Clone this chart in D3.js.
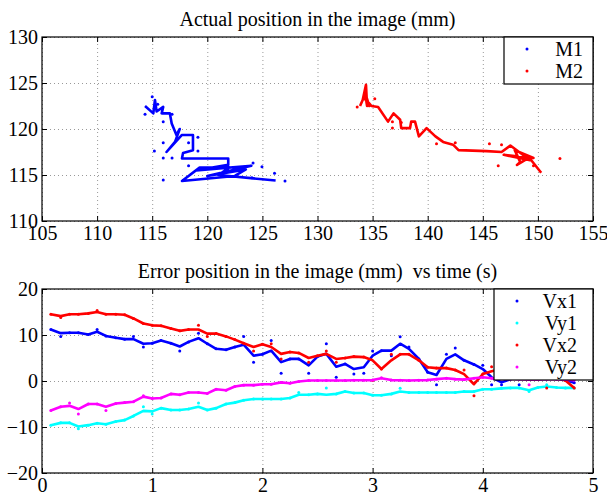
<!DOCTYPE html>
<html>
<head>
<meta charset="utf-8">
<script src="https://cdn.jsdelivr.net/npm/d3@7"></script>
<style>
  body { margin: 0; background: #fff; }
  svg text { font-family: "Liberation Serif", "Times New Roman", serif; fill: #000; white-space: pre; }
</style>
</head>
<body>
<svg id="chart" width="607" height="493"></svg>
<script>
// top panel: trajectories (mm)
const m1LineX = [114.35, 115.1, 115.25, 115.4, 116.0, 115.86, 116.6, 116.77, 117.2, 117.5, 117.07, 116.3, 117.7, 118.7, 118.7, 117.8, 117.7, 121.9, 121.9, 119.0, 124.0, 120.0, 123.5, 122.5, 117.7, 119.3, 122.0, 121.0, 126.2];
const m1LineY = [122.5, 121.7, 123.15, 121.9, 122.4, 121.7, 121.7, 120.6, 119.35, 120.0, 118.6, 117.5, 119.35, 119.35, 117.7, 117.4, 116.8, 116.8, 116.1, 115.5, 116.0, 114.9, 115.6, 114.9, 114.35, 115.8, 115.8, 115.0, 114.4];
const m1DotX = [114.35, 116.0, 116.8, 116.0, 115.2, 116.0, 116.8, 118.3, 119.15, 119.15, 118.3, 116.0, 124.15, 124.96, 126.1, 127.05, 124.05, 123.0, 115.0, 115.5];
const m1DotY = [121.6, 120.8, 121.6, 118.5, 117.6, 116.85, 116.85, 118.5, 119.1, 117.6, 116.0, 114.45, 116.3, 115.9, 115.2, 114.35, 114.7, 115.5, 123.5, 122.7];

const m2LineX = [133.86, 134.1, 134.4, 134.5, 134.3, 134.7, 134.2, 134.9, 135.5, 136.4, 136.9, 137.5, 137.6, 138.4, 138.5, 138.85, 139.2, 139.9, 140.7, 141.4, 142.3, 142.8, 145.35, 146.7, 147.5, 149.3, 146.9, 149.6, 147.9, 148.4, 148.1, 149.2, 150.3];
const m2LineY = [122.5, 123.15, 124.8, 122.5, 124.0, 122.5, 123.5, 122.5, 122.4, 120.8, 121.7, 121.0, 120.1, 120.1, 120.8, 120.8, 119.2, 120.1, 119.2, 118.6, 118.3, 117.7, 117.6, 117.5, 118.2, 116.6, 117.2, 116.85, 117.7, 116.4, 116.1, 116.9, 115.25];
const m2DotX = [133.6, 135.2, 136.8, 136.8, 137.6, 140.8, 142.5, 145.6, 146.4, 146.7, 149.6, 152.0];
const m2DotY = [122.4, 123.3, 120.8, 120.1, 120.7, 118.4, 118.5, 118.4, 116.0, 118.3, 116.0, 116.8];

// bottom panel: errors (mm) vs time (s)
const times = [0.08, 0.17, 0.25, 0.33, 0.42, 0.50, 0.58, 0.67, 0.75, 0.83, 0.92, 1.00, 1.08, 1.17, 1.25, 1.33, 1.42, 1.50, 1.58, 1.67, 1.75, 1.83, 1.92, 2.00, 2.08, 2.17, 2.25, 2.33, 2.42, 2.50, 2.58, 2.67, 2.75, 2.83, 2.92, 3.00, 3.08, 3.17, 3.25, 3.33, 3.42, 3.50, 3.58, 3.67, 3.75, 3.83, 3.92, 4.00, 4.08, 4.17, 4.25, 4.33, 4.42, 4.50, 4.58, 4.67, 4.75, 4.83];

const vx1Line = [11.2, 10.4, 10.5, 10.5, 10.1, 10.7, 9.8, 9.4, 9.1, 9.1, 8.1, 8.2, 8.8, 8.2, 7.5, 8.5, 9.3, 8.1, 7.0, 6.8, 7.4, 7.9, 5.5, 5.8, 6.6, 4.1, 4.8, 4.8, 3.4, 5.3, 5.9, 3.1, 3.7, 2.6, 3.0, 5.5, 6.6, 6.6, 8.1, 7.0, 4.8, 1.9, 1.3, 4.8, 5.8, 4.5, 3.6, 2.6, 0.8, -0.3, 0.4, 1.2, 1.8, 1.4, 1.0, 0.6, 0.2, -0.4];
const vx1Dots = [11.2, 9.7, 10.5, 10.5, 10.1, 11.2, 9.8, 9.4, 9.1, 9.7, 7.4, 8.2, 8.8, 8.2, 6.5, 8.5, 10.4, 8.1, 7.0, 6.8, 7.4, 9.7, 4.1, 5.8, 8.8, 1.7, 4.8, 4.8, 1.7, 5.3, 8.1, 0.8, 3.7, 1.5, 1.7, 6.5, 6.6, 5.5, 9.6, 7.4, 4.8, 1.9, -0.8, 5.8, 7.2, 4.5, 3.6, 3.4, -0.8, -0.8, 0.4, -0.8, 1.8, 1.4, 1.0, 0.6, 0.2, -0.4];

const vy1Line = [-9.6, -9.1, -9.1, -9.9, -9.6, -9.2, -9.4, -8.8, -8.5, -7.6, -6.5, -6.6, -5.9, -6.3, -6.3, -6.1, -5.6, -6.3, -5.9, -5.0, -4.7, -4.2, -3.9, -3.9, -3.9, -3.9, -3.7, -3.0, -3.0, -2.8, -3.0, -2.8, -2.3, -2.6, -2.6, -3.1, -3.1, -2.8, -2.3, -2.5, -2.5, -2.5, -2.5, -2.5, -2.5, -2.3, -2.3, -1.8, -1.8, -1.6, -1.5, -1.5, -2.0, -1.4, -1.2, -1.4, -1.5, -1.5];
const vy1Dots = [-9.6, -9.1, -9.1, -10.4, -9.6, -9.2, -9.4, -8.8, -8.5, -7.6, -5.6, -7.2, -5.9, -6.3, -6.3, -6.1, -4.8, -6.3, -5.9, -5.0, -4.7, -4.2, -3.9, -3.9, -3.9, -3.9, -3.7, -2.5, -3.0, -2.8, -1.5, -2.8, -2.3, -2.6, -2.6, -3.1, -3.1, -2.8, -1.6, -2.5, -2.5, -2.5, -2.5, -2.5, -2.5, -2.3, -2.3, -1.8, -1.8, -1.6, -1.5, -1.5, -2.3, -1.4, -0.8, -1.4, -1.5, -1.5];

const vx2Line = [14.5, 14.1, 14.5, 14.5, 14.7, 15.0, 14.5, 14.5, 14.4, 13.6, 12.5, 12.1, 12.0, 11.4, 10.9, 11.2, 11.2, 10.3, 10.3, 9.7, 9.0, 8.2, 7.4, 8.0, 7.4, 5.9, 6.3, 6.1, 5.0, 5.5, 5.9, 4.8, 5.0, 5.3, 5.2, 4.5, 2.6, 4.5, 5.8, 5.8, 4.5, 3.0, 2.8, 2.8, 2.4, 1.5, -0.7, 1.5, 2.1, 2.6, 2.4, 1.9, 1.5, 1.2, 0.8, 0.7, 0.1, -1.5];
const vx2Dots = [14.5, 13.8, 14.5, 14.5, 14.7, 15.3, 14.5, 14.5, 14.4, 13.6, 12.5, 12.1, 12.0, 11.4, 10.9, 11.2, 12.1, 9.7, 10.3, 9.7, 9.0, 8.2, 6.5, 8.0, 8.1, 4.8, 6.3, 6.1, 4.1, 5.5, 6.5, 4.1, 5.0, 5.3, 5.2, 0.1, 2.6, 5.8, 5.8, 5.8, 4.5, 3.0, 2.8, 2.8, 2.4, 2.4, -3.2, 1.5, 3.1, 2.6, 2.4, 1.9, 1.5, 1.2, -1.5, 0.7, 0.1, -1.5];

const vy2Line = [-6.4, -5.6, -5.4, -6.1, -5.0, -5.0, -5.6, -4.9, -4.7, -4.5, -3.4, -3.8, -3.7, -2.8, -3.0, -2.5, -2.5, -2.7, -1.8, -2.0, -1.2, -0.9, -0.9, -0.7, -0.7, -0.3, -0.5, -0.1, 0.1, 0.1, 0.1, 0.1, 0.1, 0.15, 0.15, 0.2, 0.6, 0.2, 0.15, 0.1, 0.15, 0.2, 0.4, 0.6, 0.4, 0.3, 0.6, 0.8, 0.6, 0.45, 0.45, 0.4, 0.3, 0.3, 0.4, 0.4, 0.3, 0.2];
const vy2Dots = [-6.4, -5.6, -4.8, -7.2, -5.0, -5.0, -6.4, -4.9, -4.7, -4.5, -3.2, -3.8, -3.7, -2.8, -3.0, -2.5, -2.5, -2.7, -1.8, -2.0, -1.2, -0.9, -0.9, -0.7, -0.7, -0.3, -0.5, -0.1, 0.1, 0.1, 0.1, 0.1, 0.1, 0.15, 0.15, 0.2, 0.7, 0.2, 0.15, 0.1, 0.15, 0.2, 0.4, 0.6, 0.4, 0.3, 0.6, 0.8, 0.6, 0.45, 0.45, 0.4, -0.8, 0.3, 0.4, 0.4, 0.3, 0.2];

const topXTicks = [105, 110, 115, 120, 125, 130, 135, 140, 145, 150, 155];
const topYTicks = [110, 115, 120, 125, 130];
const botXTicks = [0, 1, 2, 3, 4, 5];
const botYTicks = [-20, -10, 0, 10, 20];

const svg = d3.select("#chart");
const left = 42, right = 593;
const fs = 20;

function panel(top, bottom, xDom, yDom, xTicks, yTicks, title) {
  const x = d3.scaleLinear().domain(xDom).range([left, right]);
  const y = d3.scaleLinear().domain(yDom).range([bottom, top]);
  const g = svg.append("g");
  const h = bottom - top, w = right - left;

  // dotted grid
  g.append("g").attr("transform", `translate(0,${bottom})`)
    .call(d3.axisBottom(x).tickValues(xTicks).tickSize(-h).tickFormat(""))
    .call(a => a.select(".domain").remove())
    .selectAll("line").attr("stroke", "#999").attr("stroke-dasharray", "1,3");
  g.append("g").attr("transform", `translate(${left},0)`)
    .call(d3.axisLeft(y).tickValues(yTicks).tickSize(-w).tickFormat(""))
    .call(a => a.select(".domain").remove())
    .selectAll("line").attr("stroke", "#999").attr("stroke-dasharray", "1,3");

  // inward ticks with labels
  const ax = g.append("g").attr("transform", `translate(0,${bottom})`)
    .call(d3.axisBottom(x).tickValues(xTicks).tickSize(-5).tickPadding(5).tickFormat(d3.format("d")));
  const ay = g.append("g").attr("transform", `translate(${left},0)`)
    .call(d3.axisLeft(y).tickValues(yTicks).tickSize(-5).tickPadding(4).tickFormat(d3.format("d")));
  g.append("g").attr("transform", `translate(0,${top})`)
    .call(d3.axisTop(x).tickValues(xTicks).tickSize(-5).tickFormat(""));
  g.append("g").attr("transform", `translate(${right},0)`)
    .call(d3.axisRight(y).tickValues(yTicks).tickSize(-5).tickFormat(""));
  g.selectAll(".domain").remove();
  g.selectAll(".tick text").attr("font-size", fs).attr("font-family", "Liberation Serif");
  ax.selectAll(".tick text").attr("dy", "0.71em");
  ay.selectAll(".tick text").attr("dy", "0.32em");

  g.append("rect").attr("x", left).attr("y", top).attr("width", w).attr("height", h)
    .attr("fill", "none").attr("stroke", "#000").attr("stroke-width", 1.2);

  svg.append("text").attr("x", (left + right) / 2).attr("y", top - 11)
    .attr("text-anchor", "middle").attr("font-size", fs).text(title);

  return { x, y, g };
}

function drawSeries(p, xs, ys, dxs, dys, color) {
  const pts = xs.map((v, i) => [v, ys[i]]);
  p.g.append("path").datum(pts)
    .attr("fill", "none").attr("stroke", color).attr("stroke-width", 2.6)
    .attr("stroke-linejoin", "round")
    .attr("d", d3.line().x(d => p.x(d[0])).y(d => p.y(d[1])));
  p.g.append("g").selectAll("circle").data(dxs.map((v, i) => [v, dys[i]]))
    .enter().append("circle")
    .attr("cx", d => p.x(d[0])).attr("cy", d => p.y(d[1]))
    .attr("r", 1.5).attr("fill", color);
}

function legend(p, x0, y0, w, names, colors, rowH, pad) {
  const lg = p.g.append("g");
  lg.append("rect").attr("x", x0).attr("y", y0).attr("width", w).attr("height", names.length * rowH + 3)
    .attr("fill", "#fff").attr("stroke", "#000").attr("stroke-width", 1.2);
  names.forEach((n, i) => {
    const cy = y0 + rowH / 2 + 1 + i * rowH;
    lg.append("circle").attr("cx", x0 + 23).attr("cy", cy).attr("r", 1.5).attr("fill", colors[i]);
    lg.append("text").attr("x", x0 + w - pad).attr("y", cy).attr("dy", "0.35em")
      .attr("text-anchor", "end").attr("font-size", fs).text(n);
  });
}

const p1 = panel(37, 221, [105, 155], [110, 130], topXTicks, topYTicks, "Actual position in the image (mm)");
drawSeries(p1, m1LineX, m1LineY, m1DotX, m1DotY, "#0000ff");
drawSeries(p1, m2LineX, m2LineY, m2DotX, m2DotY, "#ff0000");
legend(p1, 504, 37, 89, ["M1", "M2"], ["#0000ff", "#ff0000"], 22, 10);

const p2 = panel(289, 473, [0, 5], [-20, 20], botXTicks, botYTicks, "Error position in the image (mm)  vs time (s)");
drawSeries(p2, times, vx1Line, times, vx1Dots, "#0000ff");
drawSeries(p2, times, vy1Line, times, vy1Dots, "#00ffff");
drawSeries(p2, times, vx2Line, times, vx2Dots, "#ff0000");
drawSeries(p2, times, vy2Line, times, vy2Dots, "#ff00ff");
legend(p2, 494, 289, 99, ["Vx1", "Vy1", "Vx2", "Vy2"], ["#0000ff", "#00ffff", "#ff0000", "#ff00ff"], 22, 16);
</script>
</body>
</html>
